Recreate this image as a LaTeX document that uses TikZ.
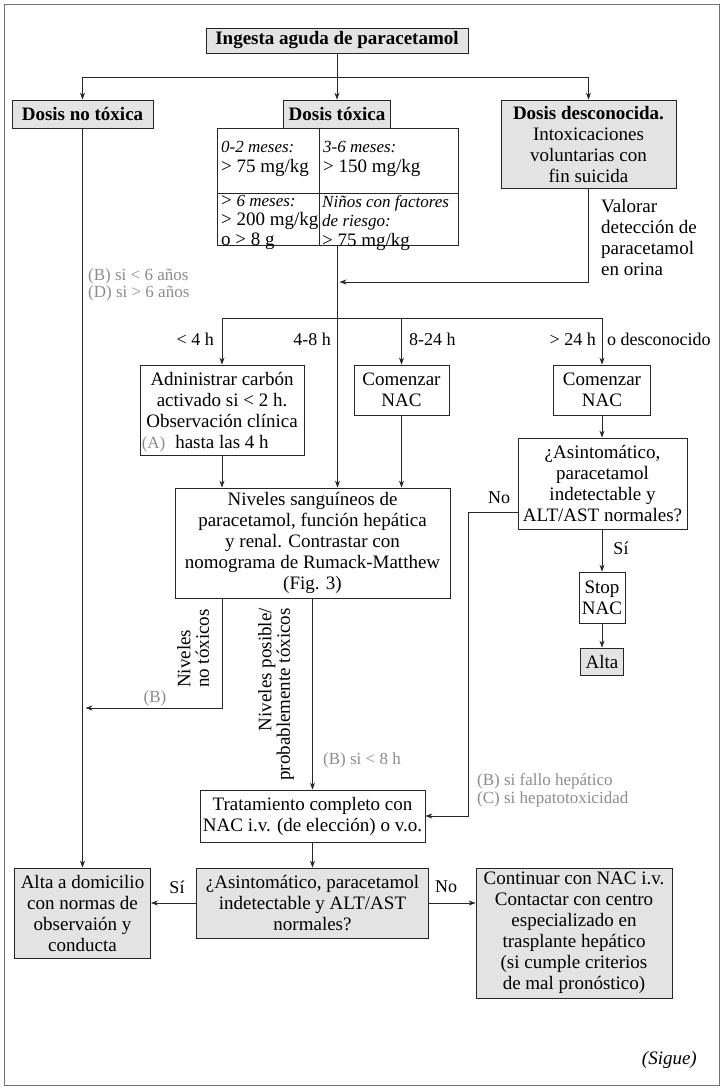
\documentclass[tikz,border=0pt]{standalone}
\usepackage{fontspec}
\setmainfont{Liberation Serif}
\usetikzlibrary{arrows.meta}
\newcommand{\smit}[1]{{\itshape\fontsize{17}{19}\selectfont #1}}

\begin{document}
\begin{tikzpicture}[x=1pt,y=-1pt,
    txt/.style={font=\fontsize{19}{21}\selectfont},
    bold/.style={font=\bfseries\fontsize{19}{21}\selectfont},
    box/.style={txt,draw=black!85,line width=0.8pt,align=center,inner sep=2pt},
    shaded/.style={box,fill=black!11},
    cell/.style={font=\fontsize{19}{19.5}\selectfont,align=left,inner sep=0pt,anchor=north west},
    link/.style={line width=0.7pt,draw=black!85},
    arr/.style={link,-{Stealth[length=7pt,width=5pt]}},
    lbl/.style={font=\fontsize{18}{20}\selectfont,inner sep=0pt},
    rot/.style={font=\fontsize{19}{18.5}\selectfont,inner sep=0pt,rotate=90},
    note/.style={font=\fontsize{17}{17.5}\selectfont,text=black!45,align=left,inner sep=0pt}]
    \useasboundingbox (0,0) rectangle (722,1088);
    \draw[black!55,line width=1pt] (4,4) rectangle (719,1085);

    \node[shaded,bold,minimum width=262,minimum height=25] (title) at (337,40.5) {Ingesta aguda de paracetamol};
    \node[shaded,bold,minimum width=141,minimum height=28] (notox) at (82.5,114) {Dosis no tóxica};
    \node[shaded,bold,minimum width=107,minimum height=28] (tox) at (337,114) {Dosis tóxica};
    \node[shaded,minimum width=175,minimum height=88] (desc) at (588.5,144) {\textbf{Dosis desconocida.}\\Intoxicaciones\\voluntarias con\\fin suicida};

    \node[box,minimum width=241,minimum height=117] (dosetab) at (337.5,186.5) {};
    \draw[link] ([xshift=-18.5pt]dosetab.north) -- ([xshift=-18.5pt]dosetab.south);
    \draw[link] ([yshift=-6.5pt]dosetab.west) -- ([yshift=-6.5pt]dosetab.east);
    \node[cell,font=\fontsize{19}{20}\selectfont] (cellA) at (221,141) {\smit{0-2 meses:}\\> 75 mg/kg};
    \node[cell,font=\fontsize{19}{20}\selectfont] (cellB) at (323,141) {\smit{3-6 meses:}\\> 150 mg/kg};
    \node[cell] (cellC) at (221,195) {> \smit{6 meses:}\\> 200 mg/kg\\o > 8 g};
    \node[cell] (cellD) at (322,195) {\smit{Niños con factores}\\\smit{de riesgo:}\\> 75 mg/kg};

    \node[txt,align=left,anchor=north west,inner sep=0pt] (valorar) at (601,199) {Valorar\\detección de\\paracetamol\\en orina};
    \node[note,anchor=west] (noteBD) at (88,285) {(B) si < 6 años\\(D) si > 6 años};

    \node[box,minimum width=164,minimum height=90] (admin) at (222,410) {Adninistrar carbón\\activado si < 2 h.\\Observación clínica\\hasta las 4 h};
    \node[note,anchor=south west] (noteA) at ([xshift=2pt,yshift=3pt]admin.south west) {(A)};
    \node[box,minimum width=95,minimum height=50] (nac1) at (401.5,390) {Comenzar\\NAC};
    \node[box,minimum width=97,minimum height=50] (nac2) at (602,390) {Comenzar\\NAC};
    \node[box,minimum width=169,minimum height=91] (asint1) at (602.5,483.5) {¿Asintomático,\\paracetamol\\indetectable y\\ALT/AST normales?};
    \node[box,minimum width=46,minimum height=51] (stopnac) at (602,597.5) {Stop\\NAC};
    \node[shaded,minimum width=43,minimum height=27] (alta) at (602,661.5) {Alta};

    \node[box,minimum width=275,minimum height=110] (niveles) at (312.5,543) {Niveles sanguíneos de\\paracetamol, función hepática\\y renal. Contrastar con\\nomograma de Rumack-Matthew\\(Fig. 3)};
    \node[rot,anchor=north west,align=left] (nontoxlbl) at (177,688) {Niveles\\no tóxicos};
    \node[rot,anchor=north east,align=right] (toxlbl) at (258,608) {Niveles posible/\\probablemente tóxicos};
    \node[note] (noteB) at (155,698) {(B)};
    \node[note,anchor=west] (noteB8) at (323,760) {(B) si < 8 h};
    \node[note,anchor=west] (noteBC) at (477,790.5) {(B) si fallo hepático\\(C) si hepatotoxicidad};

    \node[box,minimum width=225,minimum height=52] (tratam) at (312.5,816) {Tratamiento completo con\\NAC i.v. (de elección) o v.o.};
    \node[shaded,minimum width=232,minimum height=70] (asint2) at (312.5,903) {¿Asintomático, paracetamol\\indetectable y ALT/AST\\normales?};
    \node[shaded,minimum width=136,minimum height=90] (altadom) at (82.5,913) {Alta a domicilio\\con normas de\\observaión y\\conducta};
    \node[shaded,minimum width=196,minimum height=130] (contin) at (574,933) {Continuar con NAC i.v.\\Contactar con centro\\especializado en\\trasplante hepático\\(si cumple criterios\\de mal pronóstico)};

    \node[lbl,anchor=east] (lt4) at (214,339) {< 4 h};
    \node[lbl,anchor=east] (lt48) at (331,339) {4-8 h};
    \node[lbl,anchor=west] (lt824) at (409,339) {8-24 h};
    \node[lbl,anchor=east] (gt24) at (596,339) {> 24 h};
    \node[lbl,anchor=west] (unkn) at (607,339) {o desconocido};
    \node[lbl] (no1) at (499,498) {No};
    \node[lbl] (si1) at (621,548) {Sí};
    \node[lbl] (si2) at (177,887) {Sí};
    \node[lbl] (no2) at (446,887) {No};
    \node[font=\itshape\fontsize{19}{21}\selectfont,anchor=east,inner sep=0pt] (sigue) at (697,1060) {(Sigue)};

    \coordinate (split1) at (337,77);
    \coordinate (mergept) at (339.5,282);
    \coordinate (split2) at (337.5,318);
    \coordinate (lowB) at (85.5,708);
    \draw[arr] (title.south) -- (tox.north);
    \draw[arr] (split1) -| (notox.north);
    \draw[arr] (split1) -| (desc.north);
    \draw[arr] (desc.south) |- (mergept);
    \draw[arr] (dosetab.south) -- (dosetab.south |- niveles.north);
    \draw[arr] (split2) -| (admin.north);
    \draw[arr] (split2) -| (nac1.north);
    \draw[arr] (split2) -| (nac2.north);
    \draw[arr] (admin.south) -- (admin.south |- niveles.north);
    \draw[arr] (nac1.south) -- (nac1.south |- niveles.north);
    \draw[arr] (nac2.south) -- (nac2.south |- asint1.north);
    \draw[arr] (asint1.south -| stopnac.north) -- (stopnac.north);
    \draw[arr] (stopnac.south) -- (alta.north);
    \draw[arr] ([yshift=-28.5pt]asint1.west) -- ++(-49,0) |- (tratam.east);
    \draw[arr] (admin.south |- niveles.south) |- (lowB);
    \draw[arr] (niveles.south) -- (tratam.north);
    \draw[arr] (tratam.south) -- (asint2.north);
    \draw[arr] (notox.south) -- (altadom.north);
    \draw[arr] (asint2.west) -- (asint2.west -| altadom.east);
    \draw[arr] (asint2.east) -- (asint2.east -| contin.west);
\end{tikzpicture}
\end{document}
